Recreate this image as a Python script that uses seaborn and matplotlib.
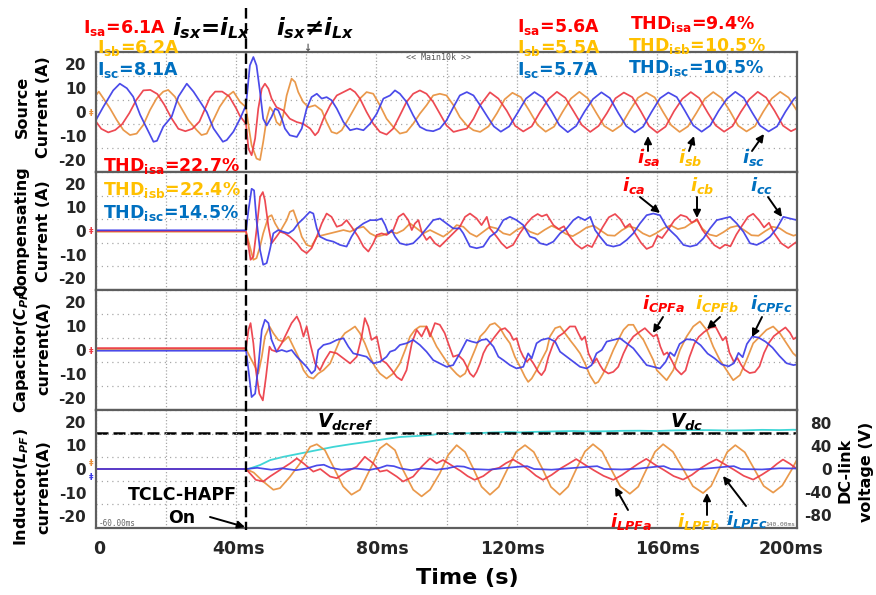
import matplotlib
matplotlib.use("Agg")
import matplotlib.pyplot as plt
import matplotlib.transforms as mtransforms
from matplotlib.lines import Line2D
from matplotlib.patches import FancyArrowPatch
from matplotlib.ticker import MultipleLocator
import pandas as pd
import seaborn as sns

# ---------------- data (time in ms, current in A, voltage in V) ----------------
T_ON = 42.8  # instant the TCLC-HAPF is switched on (dashed marker)

SRC_A = [(0,-4),(1.5,-7),(3.5,-8.5),(5.5,-7.5),(7.5,-5),(9.5,-0.5),(11.5,5),(13.5,9),(15.5,9.2),(17.5,7.5),(19.5,3),(21.5,-2.5),(23.5,-7),(25.5,-8),(27.5,-7),(29.5,-4),(31,1),(32.5,6),(34,8.5),(36,8.5),(38,6.5),(40,1.5),(41,-1.5),(42.8,-5),
         (43.5,-15.3),(44.4,-18),(45.4,-11),(46.3,1.4),(47.3,9.7),(48.2,11.8),(49.2,9.7),(50.1,5.6),(51.5,2),(53.4,0.7),(55.3,-2.8),(57.3,-4.2),(59.1,-4.9),(61.1,-6.9),(62.5,-9.7),(63.4,-8.3),(64.9,-2.8),(66.8,2.8),(68.7,6.9),(70.6,8.3),(72.5,9.7),(73.9,8.3),(75.3,5.6),(77.2,0),(79.1,-4.9),(81,-8.3),(82.9,-9.4),(84.8,-6.9),(86.7,-1.4),(88.6,4.2),(90.5,7.6),(92.4,9),(94.3,7.6),(96.2,4.2),(98.1,-0.7),(100,-5.6),(102,-8.3),(103.8,-7.6),(105.8,-6.9),(107.7,-2.8),(109.6,2.8),
         (112.4,8.2),(114.8,5.6),(117.2,0.5),(119.6,-5.8),(121.9,-8.1),(124.3,-6),(126.7,0),(129.1,5.4),(131.5,8.4),(133.9,5.9),(136.3,0.2),(138.6,-5.4),(141,-8.3),(143.4,-5.8),(145.8,-0.4),(148.2,5.7),(150.6,8.1),(153,6.2),(155.4,0.4),(157.8,-5.9),(160.1,-8.6),(162.5,-6.1),(164.9,0.3),(167.3,5.5),(169.7,8.3),(172.1,5.8),(174.5,-0.2),(176.8,-5.6),(179.2,-8.2),(181.6,-5.9),(184,0.1),(186.4,5.3),(188.8,8.4),(191.2,6),(193.6,0.5),(196,-5.7),(198.3,-8),(200,-6.8)]
SRC_B = [(0,7),(0.8,8.5),(2.1,5.7),(4,1.5),(5.9,-3.3),(7.8,-7.5),(9.7,-9.6),(11.6,-9),(13.5,-5.4),(15.4,0.8),(17.3,5.7),(19.2,8.5),(20.6,9.2),(22.5,6.4),(24.4,1.5),(26.3,-3.3),(28.7,-7.5),(30.1,-9.6),(31.6,-9),(33.5,-3.3),(35.3,2.2),(37.3,6.4),(39.2,8.5),(41.1,4.2),(42.8,2),
         (43.5,-5.6),(44.4,-13.9),(45.8,-19.4),(46.8,-20),(47.7,-12.5),(48.7,-2.8),(49.6,2),(50.6,0),(51.5,-4.2),(52.5,-5.6),(53.4,-1.4),(54.4,6.9),(55.8,13.9),(56.8,12.5),(57.7,8.3),(59.1,4.2),(60.6,2),(62.5,2.8),(64.4,0.7),(65.8,-4.2),(67.2,-8.3),(68.7,-9),(70.1,-7.6),(71.5,-4.2),(73.4,0.7),(75.3,5.6),(77.2,8.3),(79.1,7.6),(81,2.8),(82.9,-2.8),(84.8,-6.2),(86.7,-9),(88.6,-8.3),(90.5,-4.9),(92.4,-0.7),(94.3,2.8),(96.2,6.9),(98.1,7.6),(100,6.9),(102,2.8),(103.8,-2.1),(105.8,-5.6),(107.7,-7.6),(109.6,-8.3),
         (112,-6),(114.4,-0.5),(116.6,5.3),(118.8,8),(121.2,6.2),(123.6,0.6),(126,-5.4),(128.3,-8.2),(130.7,-6.1),(133.1,0),(135.5,5.6),(137.9,8.4),(140.3,5.7),(142.7,-0.3),(145,-5.8),(147.4,-8),(149.8,-5.6),(152.2,0.4),(154.6,5.9),(157,8.1),(159.4,6.1),(161.8,0),(164.1,-5.5),(166.5,-8.3),(168.9,-6),(171.3,-0.4),(173.7,5.5),(176.1,8.3),(178.5,5.8),(180.9,0.3),(183.2,-5.7),(185.6,-8.1),(188,-5.9),(190.4,0.2),(192.8,5.6),(195.2,8.4),(197.6,6),(200,0.5)]
SRC_C = [(0,-3.3),(2.1,2.2),(4.9,9),(6.8,11.8),(8.8,9.9),(10.6,6.4),(12.6,-1.2),(14.5,-6.8),(16.4,-12.4),(17.4,-12),(19.2,-6.1),(21.6,-1.9),(23.5,6.4),(25.9,11.8),(27.8,8.5),(29.7,4.3),(31.6,0),(33.5,-6.8),(36.2,-12.4),(37.3,-11.7),(39.2,-8.2),(41.1,-2.8),(42.8,2.8),
         (43.9,19.4),(44.9,22.9),(45.8,19.4),(46.8,8.3),(47.7,-2.8),(48.7,-5.6),(50.1,-2),(51.1,1.4),(52,0.7),(53,-2.8),(53.9,-6.9),(55.3,-9.7),(57.3,-10.4),(58.7,-6.9),(60.1,1.4),(61.5,6.2),(63,7.6),(64.4,5.6),(65.8,6.2),(67.2,4.9),(68.7,1.4),(70.6,-4.2),(72.5,-7.6),(74.4,-6.9),(76.3,-7.6),(78.2,-4.9),(80.1,-0.7),(82,5.6),(83.9,6.9),(85.3,9),(86.7,7.6),(88.6,4.2),(90.5,-1.4),(92.4,-6.2),(94.3,-7.6),(96.2,-8),(98.1,-6.9),(100,-3.5),(102,2.1),(103.8,6.9),(105.8,8.3),(107.7,6.9),(109.6,2.8),
         (111.9,-2.5),(113.5,-6),(115.5,-8.2),(117.9,-6),(120.3,-0.3),(122.7,5.6),(125.1,8.3),(127.5,6),(129.9,0.5),(132.2,-5.5),(134.6,-8.4),(137,-5.8),(139.4,0.2),(141.8,5.4),(144.2,8.2),(146.6,5.8),(149,-0.4),(151.3,-5.9),(153.7,-8.5),(156.1,-6.1),(158.5,0),(160.9,5.7),(163.3,8.1),(165.7,6.2),(168.1,0.3),(170.4,-5.6),(172.8,-8.2),(175.2,-5.7),(177.6,0.4),(180,5.5),(182.4,8.4),(184.8,5.9),(187.2,-0.2),(189.5,-5.7),(191.9,-8.1),(194.3,-6),(196.7,0.1),(199.1,5.4),(200,6.5)]

COMP_A = [(0,0),(42.8,0),(43.5,-6.6),(44.1,-12.2),(44.9,-10.8),(45.8,0.4),(46.8,14.4),(47.6,16.5),(48.2,13),(49.2,1.8),(50.1,-5.2),(51.5,-2.4),(52.5,-0.3),(53.9,-1),(55.3,-2.4),(57.3,-5.2),(58.7,-8),(60.1,-9.4),(61.5,-7.3),(63,-2.4),(64.4,3.2),(65.8,7.4),(67.2,6),(68.7,1.8),(70.1,2.5),(71.5,4.6),(72.9,1.8),(74.8,-2.4),(76.3,-6.6),(77.7,-8.7),(79.1,-5.2),(80.1,-1.7),(81.5,-1),(82.9,-1.7),(84.8,0.4),(86.3,6),(87.7,7.4),(89.1,4.6),(90.1,0.4),(91,3.2),(92,4.6),(92.9,-0.3),(94.3,-3.8),(95.3,-2.4),(96.7,-5.2),(98.1,-6.6),(100,-3.8),(101.9,-1),(103.8,1.8),(105.3,6),(106.7,7.4),(108.6,5.3),(110,2.5),(111.5,6),(112.4,1.1),(114.3,-2.4),(115.7,-5.2),(117.2,-7.3),(119,-5.9),(120.9,-1),(122.9,3.2),(124.5,5.8),(126,7.2),(127.2,6.2),(128.6,7),(130.5,2.5),(132,0.8),(133.5,2),(135,-2),(136.8,-5.5),(138.6,-7.5),(140.2,-6),(141.5,-6.8),(143,-2.5),(144.5,1.5),(146.3,5.8),(148.1,7.2),(149.6,5),(151,1.5),(152.3,3),(153.8,-1),(155.5,-5),(157.1,-7.6),(158.8,-6.5),(160.2,-2),(161.5,-3),(163.2,0.5),(165,4.5),(166.8,6.8),(168.5,6),(170,3.5),(171.5,5),(173,0.5),(174.8,-3),(176.4,-6),(178,-7.4),(179.5,-5.8),(181,-6.5),(182.7,-1.5),(184.2,2),(186,6),(187.5,7.3),(189.2,4.5),(190.6,1.5),(192,3.5),(193.5,-1),(195.5,-5.2),(197.5,-7.2),(199,-5.5),(200,-4.5)]
COMP_B = [(0,-0.3),(42.8,-0.3),(43.9,-6.6),(44.9,-12.2),(45.8,-11.5),(46.8,-6.6),(47.7,-1),(49.2,6),(50.1,6.7),(51.1,3.2),(52.5,-0.3),(54.4,4.6),(55.3,8.1),(56.3,8.8),(57.3,4.6),(58.7,-2.4),(60.1,-5.9),(61.5,-6.6),(63,-2.4),(64.9,-1.7),(66.8,-1),(68.7,-0.3),(70.6,0.4),(72.5,-0.3),(74.4,1.1),(76.3,1.8),(78.2,-1),(80.1,-2.4),(82,-1.7),(83.9,-0.3),(85.8,-1),(87.7,0.4),(89.6,3.2),(91.5,1.1),(93.4,-1),(95.3,0.4),(97.2,-1),(99.1,-2.4),(101,-0.3),(102.9,2.5),(104.8,1.8),(106.7,-1),(108.6,-2.4),(110.5,-0.3),(112.4,1.8),(114.3,1.1),(116.2,-1),(118.1,-1.7),(120,0.4),(121.9,1.8),(123.8,-0.3),(126,-1.5),(128,0.5),(130,2.2),(132,0.8),(134,-1.2),(136,-2.2),(138,-0.5),(140,1.5),(142,2.3),(144,0.2),(146,-1.8),(148,-2),(150,0.3),(152,2),(154,1.2),(156,-1),(158,-2.3),(160,-0.8),(162,1.2),(164,2.4),(166,0.8),(168,1.5),(170,3.5),(171.5,4.5),(173,1),(175,-1.5),(177,-2.2),(179,-0.5),(181,1.5),(183,2.2),(185,0.3),(187,-1.8),(189,-2),(191,0),(193,1.8),(195,1.2),(197,-0.8),(199,-2),(200,-1.5)]
COMP_C = [(0,0.3),(42.8,0.3),(43.5,8.8),(44.4,17.9),(45.1,17.2),(45.8,4.6),(46.8,-8),(47.7,-14.3),(48.7,-13.6),(49.6,-8),(50.6,-1),(52,0.4),(53.4,-0.3),(54.9,-1),(56.3,0.4),(57.7,3.2),(59.2,5.3),(61,8.1),(62,7.4),(63,1.1),(63.9,-2.4),(65.8,-3.8),(67.7,-4.5),(69.6,-5.9),(71.5,-6.6),(72.9,-2.4),(74.4,1.1),(76.3,3.2),(78.2,4.6),(80.1,4.6),(81.5,5.3),(82.5,2.5),(83.4,-1),(84.4,0.4),(85.3,-2.4),(86.7,-5.2),(88.6,-5.9),(90.5,-5.2),(92.4,-2.4),(94.3,1.1),(96.2,4.6),(98.1,5.3),(100,3.2),(101.9,1.1),(103.8,1.1),(104.8,-1),(106.7,-6.6),(108.6,-7.3),(110.5,-6.6),(112.4,-2.4),(114.3,-0.3),(116.2,4.6),(118.1,6),(120,4.6),(121.9,2.5),(123.8,-2.4),(125.3,-3.1),(126.7,-5.2),(128.6,-5.9),(130.5,-4.5),(132.4,-1),(134.3,1.1),(136.2,4.6),(137.6,6),(139.5,4.6),(141,6),(142.4,0.4),(143.8,-2.4),(145.7,-5.9),(147.6,-6.6),(149.5,-5.9),(151.4,-3.8),(153.3,-1),(155.2,3.2),(157.1,6.7),(159,7.4),(160.9,6.7),(162.8,1.8),(164.2,-0.3),(165.7,-2.4),(167.6,-5.9),(169.5,-6.6),(171.4,-5.9),(173.3,-3.1),(175.2,1.1),(177.1,4.6),(179,5.3),(180.9,6),(182.8,3.2),(184.7,-0.3),(186.6,-5.2),(188.5,-5.9),(190.4,-4.5),(192.3,-2.4),(194.2,1.1),(196.1,6),(198,5.3),(200,4.6)]

CAP_A = [(0,0.8),(42.8,0.8),(43.5,8.4),(44.1,11.2),(44.9,2.8),(45.6,-8.4),(46.6,-18.2),(47.6,-21),(48.5,-11.2),(49.5,1.4),(50.1,0),(51.5,-0.7),(53,2.8),(54.4,7),(55.8,11.2),(57.3,14),(58.2,11.2),(59.2,5.6),(60.1,9.8),(61.1,2.8),(62.5,-5.6),(63.9,-8.4),(65.3,-4.2),(66.8,-0.7),(68.7,-1.4),(70.6,-3.5),(72.5,-5.6),(74.4,-2.8),(75.8,5.6),(76.7,13.3),(77.7,9.8),(78.6,4.2),(80.1,5.6),(81.5,-4.2),(82.9,-5.6),(84.4,-8.4),(85.8,-11.2),(87.2,-12.6),(88.6,-8.4),(90.1,2.8),(91.5,8.4),(92.9,5.6),(94.3,9.8),(95.3,5.6),(96.7,11.2),(98.1,10.5),(99.5,7),(100.5,2.8),(101.9,-2.8),(103.3,-2.1),(104.8,-4.2),(105.8,-7),(106.7,-9.8),(107.7,-11.2),(108.6,-9.1),(109.6,-5.6),(110.5,-1.4),(111.5,1.4),(112.4,2.8),(113.8,5.6),(115.3,8.4),(116.7,9.1),(118.1,7),(119.1,4.2),(120,4.9),(121,0),(121.9,-2.8),(122.9,-4.9),(123.8,-3.5),(124.8,-5.6),(126.2,-9.1),(127.1,-10.5),(128.1,-8.4),(129.1,-2.8),(130.5,2.8),(131.9,5.6),(133.3,7),(135.2,9.8),(136.7,9.8),(137.6,7),(138.6,4.2),(139.5,5.6),(140.5,-1.4),(141.9,-5.6),(142.8,-3.5),(143.8,-6.3),(144.7,-8.4),(146.2,-9.8),(147.6,-9.1),(149,-7),(150.5,-1.4),(151.9,2.8),(153.3,5.6),(155.2,7.7),(156.6,9.1),(158,7),(159,5.6),(160,6.5),(161,1.5),(162,-2),(163,-1),(164.3,-4.5),(165.5,-8),(167,-10.2),(168.2,-8.5),(169.3,-3),(170.7,2.5),(172,5.5),(173.5,7.5),(175.3,9.3),(176.8,9.6),(177.8,6.8),(178.8,4),(179.7,5.5),(180.7,-1),(182,-5),(183,-3.3),(184,-6),(185,-8.2),(186.5,-9.6),(188,-9.2),(189.3,-6.8),(190.6,-1.2),(192,3),(193.4,5.8),(195.2,7.8),(196.7,9.4),(198,7.2),(199,4.5),(200,5.5)]
CAP_B = [(0,0.4),(42.8,0.4),(43.9,-2.8),(45.4,-7),(46.3,-9.8),(47.3,-2.8),(48.2,5.6),(49.5,9.8),(50.6,7),(52,4.2),(53.4,3.5),(54.9,5.6),(56.3,1.4),(57.7,-2.8),(59.2,-8.4),(60.6,-11.2),(62,-11.9),(63.4,-9.8),(64.9,-8.4),(66.8,-5.6),(68.2,-0.7),(69.6,4.2),(71,7),(72.5,8.4),(73.9,9.8),(75.3,7),(76.7,2.8),(78.2,-2.8),(79.6,-7),(81,-9.8),(82.9,-11.9),(84.8,-9.8),(86.7,-5.6),(88.2,0),(89.6,5.6),(91,8.4),(92.4,9.8),(94.3,9.8),(95.8,5.6),(97.2,1.4),(99.1,-2.8),(101,-7),(102.9,-10),(103.9,-11.2),(105.3,-9.8),(106.7,-4.9),(108.1,0),(109.6,5.6),(111,7.7),(112.4,10.5),(113.8,11.2),(115.3,9.1),(116.7,5.6),(118.1,2.8),(119.5,-2.8),(121,-7),(122.4,-11.2),(123.3,-13.3),(124.3,-11.9),(125.7,-8.4),(127.1,-4.2),(128.6,0),(129.5,5.6),(131,9.1),(132.4,9.8),(133.8,7),(135.2,4.2),(136.7,1.4),(138.1,-1.4),(139.5,-5.6),(140.9,-10.5),(142.4,-14),(143.3,-13.3),(144.7,-9.8),(146.2,-4.9),(147.6,0),(149,4.2),(150.5,8.4),(151.9,10.5),(153.3,10.5),(154.7,7),(156.2,4.2),(157.6,0),(159,-4.2),(160,-8.4),(162.8,-12.6),(164.7,-8.4),(166.6,0),(168.5,5.6),(170.4,9.8),(172.3,11.9),(174.2,8.4),(176.1,1.4),(178,-4.2),(179.9,-8.4),(181.8,-12.6),(183.7,-10.5),(185.6,-4.2),(187.5,2.8),(189.4,5.6),(191.3,8.4),(193.2,9.8),(195.1,7),(197,2.8),(198.9,-1.4),(200,-2.8)]
CAP_C = [(0,-0.3),(42.8,-0.3),(43.5,-8.4),(44.4,-19.6),(45.4,-18.2),(46.3,-7),(47.3,8.4),(48.2,12.6),(49.2,11.2),(50.1,4.2),(51.5,-0.7),(53,0),(54.4,-0.7),(55.8,0),(57.3,-2.8),(58.7,-4.9),(60.1,-7),(61.5,-9.8),(62.5,-8.4),(63.4,0),(64.9,2.1),(66.8,2.8),(68.7,4.2),(70.6,4.9),(72,1.4),(73.4,-1.4),(75.3,-2.1),(77.2,-2.8),(79.1,-5.6),(81,-4.9),(82.9,-2.8),(83.9,-0.7),(85.3,0),(86.7,2.1),(88.6,2.8),(90.5,4.2),(92.4,2.1),(94.3,-0.7),(96.2,-4.2),(98.1,-5.6),(100,-7),(101.9,-6.3),(103.8,-1.4),(105.8,4.2),(107.2,3.5),(108.6,3),(110,4.2),(111.5,4.5),(113.4,1.4),(114.8,-2.8),(116.2,-4.2),(118.1,-6.3),(120,-7.7),(121.9,-7),(123.3,-1.4),(124.3,-3.5),(125.7,2.8),(127.1,4.2),(129.1,4.9),(131,3.5),(132.4,-0.7),(134.3,-2.8),(136.2,-4.9),(138.1,-7),(140,-7.7),(141.4,-6.3),(142.8,-1.4),(144.3,0),(145.7,3.5),(147.6,4.2),(149.5,4.9),(151.4,2.8),(153.3,0.7),(155.2,-2.8),(157.1,-6.3),(159,-7),(160.9,-7.7),(162.5,-5),(163.8,-1),(165,-2.5),(166.5,2.5),(168.5,4.5),(170.5,4.2),(172.5,2),(174.5,-1.5),(176.5,-3.5),(178.5,-6),(180.5,-6.8),(182,-5.5),(183.3,-1.2),(184.5,-3),(185.7,2.5),(187.2,5.6),(189,5.2),(191,3.5),(193,1),(195,-2.5),(197,-5.5),(199,-6.3),(200,-6)]

IND_A = [(0,0),(42.8,0),(45.6,-4.6),(47.7,-5.3),(49.6,-3.2),(52.5,-0.4),(55.4,2.4),(57.3,4.5),(59.2,2.4),(62,-1.1),(64,0),(66.8,-3.2),(68.7,-3.9),(71.5,-1.1),(74.4,1),(76.7,5.2),(79.1,2.4),(81,-1.1),(83,-0.5),(85.8,-3.2),(87.6,-5.3),(90.5,-3.2),(92.9,1),(95.3,4.5),(97.2,2.4),(99,3.8),(101.5,1.5),(104,-0.8),(106,-3),(108,-4.6),(110.5,-3),(113,-0.2),(115,0.5),(117,2.5),(119,4),(121.3,2),(123.5,-0.3),(125.5,-2.8),(127.5,-4.6),(130,-2.5),(132.5,0.2),(134.8,2.2),(137,4.2),(139.5,1.8),(142,-0.5),(144.8,-2.9),(147.6,-4.6),(150,-2.6),(152.5,0),(154.8,2.3),(157,4.3),(159.5,1.8),(162,-0.4),(164.8,-3),(167.5,-4.5),(170,-2.5),(172.5,0.3),(174.8,2.4),(177,4.1),(179.5,1.9),(182,-0.3),(184.8,-2.9),(187.5,-4.5),(190,-2.4),(192.5,0),(194.3,2.2),(196,4),(198,2.2),(200,0)]
IND_B = [(0,0),(42.8,0),(45,-1.5),(47.7,-5.3),(50.6,-8.8),(52.5,-8.1),(55.4,-3.2),(58.2,2.4),(61.1,9.4),(63,10.5),(65.3,8),(67.7,1),(70.5,-7.4),(72.9,-10.9),(75.3,-8.8),(78.1,-0.4),(81,8.7),(82.9,10.8),(85.3,8),(87.6,-0.4),(90.5,-8.8),(92.9,-11.6),(95.3,-8.8),(98.1,-1.8),(100.5,6),(102.9,10.1),(105.3,7.2),(107.7,0),(110,-7.5),(112.4,-10.9),(114.9,-7.6),(117.4,0),(119.9,7.3),(122.4,10.1),(124.9,7.2),(127.4,0),(129.8,-7.6),(132.3,-10.9),(134.7,-7.5),(137.1,0.2),(139.5,7.4),(141.8,10.5),(144.4,7.4),(147,-0.2),(149.6,-7.4),(152.3,-10.5),(154.7,-7.5),(157.1,0),(159.5,7.3),(161.8,10.5),(164.6,7.3),(167.5,0),(170.3,-7.3),(173.2,-10.2),(175.5,-7.2),(177.8,0),(180.1,7.2),(182.4,10.1),(185.1,7.1),(187.8,0),(190.5,-7.2),(193.2,-10),(195.8,-7),(198.4,-0.5),(200,4)]
IND_C = [(0,0),(42.8,0),(46,0.5),(50,-0.3),(53,0.3),(57,-0.5),(60,0.2),(63,1.5),(65,1.8),(67,0.5),(70,-0.3),(74,0.2),(78,-0.4),(81,0.5),(83,1.5),(85,1.2),(87,0.2),(90,-0.5),(93,0.3),(97,-0.3),(100,0.2),(103,1.2),(105,1),(107,0),(112,-0.3),(116,0.3),(121,1),(123,1.2),(125,0),(130,-0.3),(135,0.3),(141,1),(143,1.2),(145,0),(150,-0.2),(155,0.2),(160,1),(162,1.2),(164,0),(170,-0.3),(175,0.3),(180,1),(182,1.2),(184,0),(190,-0.2),(195,0.3),(200,0.2)]

VDC = [(0,0),(43.5,0),(46.8,6.9),(49.7,15.5),(53.5,21.2),(58.2,26.9),(63,32.7),(67.7,38.4),(72.5,43),(77.2,47),(82,51.6),(86.7,55.6),(91.5,57.3),(96.2,59.6),(98.1,61.4),(102,61),(105,62),(110,62.5),(113,63.5),(117.1,64.2),(121,63.6),(125,64.5),(130,65.2),(136.1,66),(140,65.3),(145,65.5),(150,66.3),(155,66.5),(160,66),(164.7,67),(170,67.6),(175,67.5),(180,66.9),(185,67.2),(190,68),(195,67.6),(198.9,68.2),(200,68)]
VDC_REF = 62

TIME_TICKS = [0.9, 40.7, 81.6, 118.7, 163.1, 198.2]
TIME_LABELS = ["0", "40ms", "80ms", "120ms", "160ms", "200ms"]
I_TICKS = [20, 10, 0, -10, -20]
V_TICKS = [80, 40, 0, -40, -80]

# ---------------- style ----------------
sns.set_style("white")
plt.rcParams['font.family'] = ['DejaVu Sans']
plt.rcParams['font.weight'] = 'bold'
plt.rcParams['mathtext.fontset'] = 'custom'
plt.rcParams['mathtext.rm'] = 'DejaVu Sans:bold'
plt.rcParams['mathtext.it'] = 'DejaVu Sans:italic:bold'
plt.rcParams['mathtext.bf'] = 'DejaVu Sans:bold'
plt.rcParams['mathtext.sf'] = 'DejaVu Sans:bold'

TR_RED, TR_ORG, TR_BLU, TR_CYN = "#ec3a44", "#e8903c", "#3b3be8", "#3fd6d6"
TX_RED, TX_GLD, TX_BLU = "#ff0000", "#ffc000", "#0070c0"
PAL = {"a": TR_RED, "b": TR_ORG, "c": TR_BLU}
FRAME = "#5e5e5e"
GRID = "#a8a8a8"

W, H = 876, 595
fig = plt.figure(figsize=(W / 100, H / 100), dpi=100)


def fx(x):
    return x / W


def fy(y):
    return 1 - y / H


def frame_df(series):
    rows = []
    for name, pts in series.items():
        for t, v in pts:
            rows.append((name, t, v))
    return pd.DataFrame(rows, columns=["phase", "t", "val"])


panels = [
    ((52, 172), {"a": SRC_A, "b": SRC_B, "c": SRC_C}),
    ((172, 290), {"a": COMP_A, "b": COMP_B, "c": COMP_C}),
    ((290, 410), {"a": CAP_A, "b": CAP_B, "c": CAP_C}),
    ((410, 528), {"a": IND_A, "b": IND_B, "c": IND_C}),
]

axes = []
for i, ((top, bot), series) in enumerate(panels):
    ax = fig.add_axes([fx(96), fy(bot), fx(797) - fx(96), (bot - top) / H])
    axes.append(ax)
    df = frame_df(series)
    sns.lineplot(data=df, x="t", y="val", hue="phase", hue_order=["b", "a", "c"],
                 palette=PAL, estimator=None, sort=False, legend=False,
                 linewidth=1.25, alpha=0.92, ax=ax)
    ax.set_xlim(0, 200)
    ax.set_ylim(-25, 25)
    ax.set_yticks(I_TICKS)
    ax.set_yticklabels([str(v) for v in I_TICKS])
    ax.yaxis.set_minor_locator(MultipleLocator(5))
    ax.xaxis.set_minor_locator(MultipleLocator(20))
    ax.grid(False)
    ax.grid(which="minor", axis="y", color=GRID, lw=0.9, linestyle=(0, (1, 3.2)))
    ax.grid(which="minor", axis="x", color=GRID, lw=0.9, linestyle=(0, (1, 1.6)))
    ax.set_xlabel("")
    ax.set_ylabel("")
    ax.tick_params(axis="y", which="both", length=0, pad=7, labelsize=11)
    ax.tick_params(axis="x", which="both", length=0)
    for sp in ax.spines.values():
        sp.set_color(FRAME)
        sp.set_linewidth(1.6)
    if i < 3:
        ax.set_xticks([])
    else:
        ax.set_xticks(TIME_TICKS)
        ax.set_xticklabels(TIME_LABELS, fontsize=12.5, fontweight="bold")
        ax.tick_params(axis="x", pad=9)

# DC-link voltage on a right axis of the bottom panel
ax4 = axes[3]
axv = ax4.twinx()
axv.set_zorder(1)
ax4.set_zorder(2)
ax4.patch.set_visible(False)
axv.patch.set_visible(True)
axv.patch.set_facecolor("white")
vdf = pd.DataFrame(VDC, columns=["t", "val"])
sns.lineplot(data=vdf, x="t", y="val", color=TR_CYN, linewidth=1.3, estimator=None,
             sort=False, ax=axv)
axv.axhline(VDC_REF, color="black", lw=1.8, dashes=(4.8, 2.0), zorder=5)
axv.set_ylim(-102.5, 102.5)
axv.set_xlim(0, 200)
axv.set_yticks(V_TICKS)
axv.set_yticklabels([str(v) for v in V_TICKS])
axv.set_ylabel("")
axv.tick_params(axis="y", length=0, pad=25, labelsize=11)
for lab in axv.get_yticklabels():
    lab.set_horizontalalignment("right")
for sp in axv.spines.values():
    sp.set_visible(False)

# dashed switching-instant line through all panels
blend = mtransforms.blended_transform_factory(ax4.transData, fig.transFigure)
fig.add_artist(Line2D([T_ON, T_ON], [fy(8), fy(530)], transform=blend, color="black",
                      lw=1.7, dashes=(4.5, 1.9), zorder=6))

# ---------------- texts ----------------
def ftext(x, y, s, color="black", size=12.5, ha="left", va="baseline", **kw):
    fig.text(fx(x), fy(y), s, color=color, fontsize=size, ha=ha, va=va,
             fontweight="bold", zorder=7, **kw)


ftext(83, 33, r"I$_{\mathrm{sa}}$=6.1A", TX_RED)
ftext(97, 53, r"I$_{\mathrm{sb}}$=6.2A", TX_GLD)
ftext(97, 75, r"I$_{\mathrm{sc}}$=8.1A", TX_BLU)
ftext(172, 35, r"$i_{sx}$=$i_{Lx}$", size=16.5, style="italic")
ftext(276, 35, r"$i_{sx}$≠$i_{Lx}$", size=16.5, style="italic")
ftext(517, 32, r"I$_{\mathrm{sa}}$=5.6A", TX_RED)
ftext(517, 53, r"I$_{\mathrm{sb}}$=5.5A", TX_GLD)
ftext(517, 75, r"I$_{\mathrm{sc}}$=5.7A", TX_BLU)
ftext(630, 29, r"THD$_{\mathrm{isa}}$=9.4%", TX_RED)
ftext(628, 51, r"THD$_{\mathrm{isb}}$=10.5%", TX_GLD)
ftext(628, 73, r"THD$_{\mathrm{isc}}$=10.5%", TX_BLU)
ftext(103, 171, r"THD$_{\mathrm{isa}}$=22.7%", TX_RED)
ftext(103, 195, r"THD$_{\mathrm{isb}}$=22.4%", TX_GLD)
ftext(103, 218, r"THD$_{\mathrm{isc}}$=14.5%", TX_BLU)

sig_labels = [
    (637, 163, r"$i_{sa}$", TX_RED), (678, 163, r"$i_{sb}$", TX_GLD), (742, 163, r"$i_{sc}$", TX_BLU),
    (622, 191, r"$i_{ca}$", TX_RED), (690, 191, r"$i_{cb}$", TX_GLD), (750, 191, r"$i_{cc}$", TX_BLU),
    (642, 309, r"$i_{CPFa}$", TX_RED), (695, 309, r"$i_{CPFb}$", TX_GLD), (750, 309, r"$i_{CPFc}$", TX_BLU),
    (610, 527, r"$i_{LPFa}$", TX_RED), (677, 527, r"$i_{LPFb}$", TX_GLD), (726, 525, r"$i_{LPFc}$", TX_BLU),
]
for x, y, s, c in sig_labels:
    ftext(x, y, s, c, size=13)

ftext(317, 428, r"$V_{dcref}$", size=13.5)
ftext(670, 428, r"$V_{dc}$", size=13.5)
ftext(182, 495, "TCLC-HAPF", size=12.5, ha="center", va="center")
ftext(182, 518, "On", size=12.5, ha="center", va="center")

arrows = [((648, 151), (648, 136)), ((689, 151), (694, 136)), ((752, 151), (764, 134)),
          ((640, 197), (660, 213)), ((697, 197), (697, 218)), ((768, 197), (782, 217)),
          ((663, 317), (653, 333)), ((720, 317), (707, 329)), ((762, 317), (752, 337)),
          ((628, 510), (615, 487)), ((707, 515), (707, 493)), ((746, 506), (723, 476)),
          ((210, 517), (245, 527))]
for (x1, y1), (x2, y2) in arrows:
    fig.add_artist(FancyArrowPatch((fx(x1), fy(y1)), (fx(x2), fy(y2)), transform=fig.transFigure,
                                   arrowstyle="-|>", mutation_scale=11, lw=1.4, color="black",
                                   shrinkA=0, shrinkB=0, zorder=7))

# small scope annotations
fig.text(fx(406), fy(58), "<< Main10k >>", fontsize=6, color="#555555", family="DejaVu Sans Mono",
         fontweight="normal", va="center", zorder=7)
fig.text(fx(99), fy(524), "-60.00ms", fontsize=5.5, color="#666666", family="DejaVu Sans Mono",
         fontweight="normal", va="center", zorder=7)
fig.text(fx(795), fy(524), "140.00ms", fontsize=4.5, color="#666666", family="DejaVu Sans Mono",
         fontweight="normal", va="center", ha="right", zorder=4)
fig.text(fx(307), fy(48), "↓", fontsize=7, color="#555555", ha="center", va="center", zorder=7)
for (yy, col) in [(113, TR_ORG), (232, TR_RED), (352, TR_RED), (463, TR_ORG), (477, TR_BLU)]:
    fig.text(fx(91), fy(yy), "‡", fontsize=6.5, color=col, ha="center", va="center", zorder=7)

# axis titles
ylabs = [("Source", "Current (A)", 107), ("Compensating", "Current (A)", 231),
         (r"Capacitor($C_{PF}$)", "current(A)", 348), (r"Inductor($L_{PF}$)", "current(A)", 487)]
for l1, l2, yc in ylabs:
    ftext(22, yc, l1, size=11.5, ha="center", va="center", rotation=90)
    ftext(44, yc, l2, size=11.5, ha="center", va="center", rotation=90)
ftext(845, 470, "DC-link", size=11.5, ha="center", va="center", rotation=90)
ftext(866, 472, "voltage (V)", size=11.5, ha="center", va="center", rotation=90)
ftext(467, 578, "Time (s)", size=16, ha="center", va="center")

fig.savefig("out.png", dpi=100, facecolor="white")
